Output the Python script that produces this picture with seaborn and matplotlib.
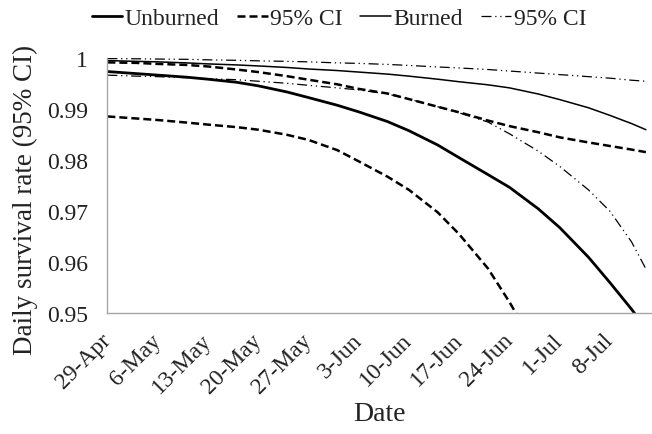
import numpy as np
import pandas as pd
import matplotlib
matplotlib.use('Agg')
import matplotlib.pyplot as plt
import matplotlib.dates as mdates
from matplotlib.lines import Line2D
import seaborn as sns

# days after 29-Apr
start = pd.Timestamp('2012-04-29')
day_offsets = [0, 4, 7, 11, 14, 18, 21, 25, 28, 32, 35, 39, 42, 46, 49, 53, 56, 60, 63, 67, 70, 73, 75]

unburned = [0.9974, 0.9970, 0.9967, 0.9963, 0.9959, 0.9953, 0.9946, 0.9934, 0.9923, 0.9908, 0.9895,
            0.9876, 0.9858, 0.9830, 0.9805, 0.9772, 0.9747, 0.9705, 0.9668, 0.9610, 0.9560, 0.9508, 0.9470]
unburned_lo = [0.9886, 0.9882, 0.9879, 0.9874, 0.9870, 0.9865, 0.9860, 0.9850, 0.9840, 0.9820, 0.9798,
               0.9768, 0.9742, 0.9698, 0.9655, 0.9588, 0.9522, 0.9425, np.nan, np.nan, np.nan, np.nan, np.nan]
unburned_hi = [0.9992, 0.9991, 0.9989, 0.9987, 0.9984, 0.9978, 0.9973, 0.9965, 0.9958, 0.9949, 0.9940,
               0.9931, 0.9920, 0.9905, 0.9894, 0.9878, 0.9867, 0.9855, 0.9845, 0.9835, 0.9828, 0.9821, 0.9816]
burned = [0.99955, 0.9994, 0.9993, 0.9991, 0.9989, 0.9987, 0.9985, 0.9982, 0.9979, 0.9976, 0.9973,
          0.9969, 0.9965, 0.9959, 0.9954, 0.9948, 0.9942, 0.9930, 0.9919, 0.9903, 0.9888, 0.9872, 0.9860]
burned_lo = [0.9967, 0.9965, 0.9964, 0.9962, 0.9960, 0.9958, 0.9955, 0.9951, 0.9947, 0.9942, 0.9938,
             0.9930, 0.9920, 0.9905, 0.9893, 0.9875, 0.9852, 0.9818, 0.9788, 0.9742, 0.9700, 0.9640, 0.9587]
burned_hi = [0.99995, 0.9999, 0.99985, 0.9998, 0.9997, 0.9996, 0.9995, 0.9994, 0.9993, 0.9991, 0.9990,
             0.9988, 0.9986, 0.9983, 0.9981, 0.9978, 0.9975, 0.9971, 0.9968, 0.9964, 0.9961, 0.9957, 0.9955]

tick_labels_y = ['0.95', '0.96', '0.97', '0.98', '0.99', '1']

dates = start + pd.to_timedelta(day_offsets, unit='D')
df = pd.DataFrame({'Date': dates, 'Unburned': unburned, 'U_lo': unburned_lo, 'U_hi': unburned_hi,
                   'Burned': burned, 'B_lo': burned_lo, 'B_hi': burned_hi})

sns.set_style('white')
plt.rcParams['font.family'] = ['Liberation Serif', 'DejaVu Serif']

fig = plt.figure(figsize=(6.52, 4.35), dpi=100)
ax = fig.add_axes([0.1647, 0.2775, 0.8353, 0.5862])

thick_dash = (0, (3.2, 1.6))
dash_dot_dot = (0, (8, 3, 1, 3, 1, 3))
styles = {
    'Unburned': dict(lw=2.0, ls='-'),
    'U_lo': dict(lw=1.8, ls=thick_dash),
    'U_hi': dict(lw=1.8, ls=thick_dash),
    'Burned': dict(lw=1.1, ls='-'),
    'B_lo': dict(lw=0.9, ls=dash_dot_dot),
    'B_hi': dict(lw=0.9, ls=dash_dot_dot),
}
for col, st in styles.items():
    sns.lineplot(data=df, x='Date', y=col, ax=ax, color='black', linewidth=st['lw'],
                 linestyle=st['ls'], legend=False)

ax.set_xlim(start, start + pd.Timedelta(days=75.85))
ax.set_ylim(0.95, 1.0)
ax.set_yticks([0.95, 0.96, 0.97, 0.98, 0.99, 1.0])
ax.set_yticklabels(tick_labels_y)
ax.set_xticks(pd.date_range(start, periods=11, freq='7D'))
ax.xaxis.set_major_formatter(mdates.DateFormatter('%-d-%b'))
plt.setp(ax.get_xticklabels(), rotation=45, ha='right', va='center', rotation_mode='anchor')

for s in ['top', 'right']:
    ax.spines[s].set_visible(False)
for s in ['left', 'bottom']:
    ax.spines[s].set_color('#a6a6a6')
    ax.spines[s].set_linewidth(1.0)
ax.tick_params(axis='both', direction='out', length=5, width=1.0, color='#a6a6a6',
               labelsize=17, labelcolor='#222222')
ax.tick_params(axis='y', pad=9)
ax.tick_params(axis='x', pad=12)

ax.set_xlabel('Date', fontsize=20, color='#222222')
ax.set_ylabel('Daily survival rate (95% CI)', fontsize=19.5, color='#222222')
ax.xaxis.label.set_va('center')
ax.yaxis.label.set_va('center')
ax.xaxis.set_label_coords(0.5, -0.392)
ax.yaxis.set_label_coords(-0.150, 0.448)

handles = [Line2D([], [], color='black', lw=2.0, ls='-'),
           Line2D([], [], color='black', lw=1.8, ls=thick_dash),
           Line2D([], [], color='black', lw=1.1, ls='-'),
           Line2D([], [], color='black', lw=0.9, ls=dash_dot_dot)]
labels = ['Unburned', '95% CI', 'Burned', '95% CI']
fig.legend(handles, labels, loc='center', bbox_to_anchor=(0.52, 0.955), ncol=4, frameon=False,
           fontsize=17, handlelength=1.3, handletextpad=0.1, columnspacing=0.75,
           labelcolor='#222222')

fig.savefig('out.png', dpi=100)
